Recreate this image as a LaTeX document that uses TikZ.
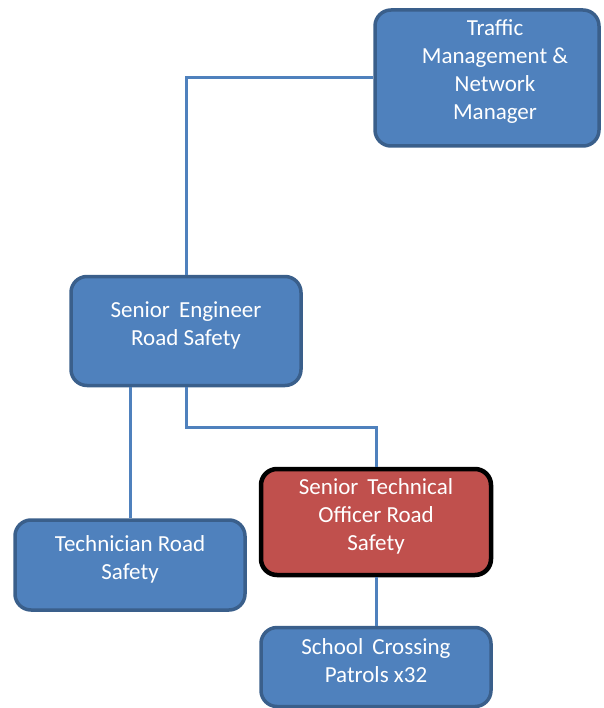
\documentclass[tikz,border=0pt]{standalone}
\usepackage{fontspec}
\setmainfont{Carlito}
\usetikzlibrary{positioning}
\definecolor{rsBlue}{HTML}{4F81BD}
\definecolor{rsEdge}{HTML}{3A5F8B}
\definecolor{rsRed}{HTML}{C0504D}
\tikzset{
  post/.style    ={rounded corners=16pt,minimum width=230pt,inner sep=0pt},
  bluepost/.style={post,draw=rsEdge,fill=rsBlue,line width=3.5pt},
  redpost/.style ={post,draw=black,fill=rsRed,line width=4.5pt},
  lbl/.style     ={font=\fontsize{23}{28}\selectfont,text=white,align=center,yshift=6pt},
  link/.style    ={draw=rsBlue,line width=3pt},
}
\begin{document}
\begin{tikzpicture}[x=1pt,y=-1pt]
\useasboundingbox (0,0) rectangle (603,708);

\node[bluepost,minimum width=224pt,minimum height=136pt] (tnm) at (487,78)
  {};
\node[lbl,xshift=8pt] at (tnm.center) {Traffic\\Management \&\\Network\\Manager};
\node[bluepost,minimum height=109pt] (ser) at (186,331) {};
\node[lbl] at (ser.center) {Senior\, Engineer\\Road Safety};
\node[bluepost,minimum height=90pt] (tec) at (130,565) {};
\node[lbl] at (tec.center) {Technician Road\\Safety};
\node[redpost,minimum height=106pt] (sto) at (376,522) {};
\node[lbl] at (sto.center) {Senior\, Technical\\Officer Road\\Safety};
\node[bluepost,minimum height=79pt] (scp) at (376,667) {};
\node[lbl] at (scp.center) {School\, Crossing\\Patrols x32};

% reporting lines
\path[link] (ser.north) |- (tnm.west);
\path[link] (ser.south) -- ++(0,40) -| (sto.north);
\path[link] (tec.north) -- (tec.north |- ser.south);
\path[link] (sto.south) -- (scp.north);
\end{tikzpicture}
\end{document}
